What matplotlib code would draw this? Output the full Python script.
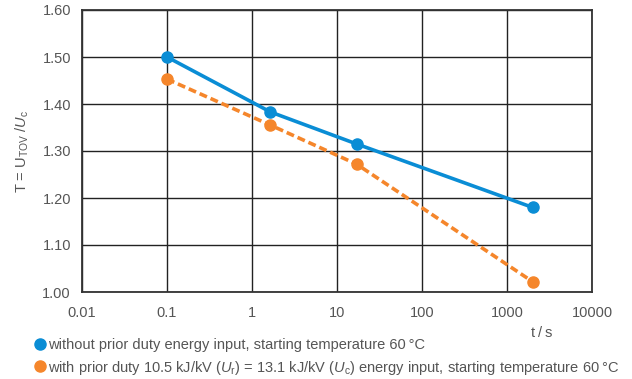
import matplotlib
matplotlib.use("Agg")
import matplotlib.pyplot as plt
from matplotlib.lines import Line2D
from matplotlib.ticker import FixedLocator, FixedFormatter, NullLocator

t_values = [0.1, 1.65, 17, 2000]
blue_T = [1.500, 1.383, 1.315, 1.180]
orange_T = [1.453, 1.355, 1.272, 1.022]
x_ticks = [0.01, 0.1, 1, 10, 100, 1000, 10000]
x_labels = ["0.01", "0.1", "1", "10", "100", "1000", "10000"]
y_ticks = [1.00, 1.10, 1.20, 1.30, 1.40, 1.50, 1.60]
y_labels = ["1.00", "1.10", "1.20", "1.30", "1.40", "1.50", "1.60"]
legend_labels = [
    "without prior duty energy input, starting temperature 60\u2009°C",
    r"with prior duty 10.5 kJ/kV ($\mathit{U}_{\mathrm{r}}$) = 13.1 kJ/kV ($\mathit{U}_{\mathrm{c}}$) energy input, starting temperature 60"
    + "\u2009°C",
]

BLUE = "#0a8dd5"
ORANGE = "#f5862b"
TXT = "#555555"

plt.rcParams['font.family'] = ['Liberation Sans', 'DejaVu Sans']
plt.rcParams['mathtext.fontset'] = 'custom'
plt.rcParams['mathtext.rm'] = 'Liberation Sans'
plt.rcParams['mathtext.it'] = 'Liberation Sans:italic'

fig = plt.figure(figsize=(6.32, 3.79), dpi=100)
ax = fig.add_axes([82/632, 1-292/379, (592-82)/632, (292-10)/379])

ax.set_xscale('log')
ax.set_xlim(0.01, 10000)
ax.set_ylim(1.0, 1.6)

ax.plot(t_values, blue_T, color=BLUE, lw=2.6, marker='o', ms=8, zorder=4)
ax.plot(t_values, orange_T, color=ORANGE, lw=2.6, ls=(0, (2.2, 1.1)), marker='o', ms=8, zorder=3)

ax.xaxis.set_major_locator(FixedLocator(x_ticks))
ax.xaxis.set_major_formatter(FixedFormatter(x_labels))
ax.xaxis.set_minor_locator(NullLocator())
ax.yaxis.set_major_locator(FixedLocator(y_ticks))
ax.yaxis.set_major_formatter(FixedFormatter(y_labels))
ax.tick_params(length=0, labelsize=10.5, colors=TXT, pad=8)
ax.tick_params(axis='x', pad=10)
ax.grid(True, color='#222222', lw=1.0)
ax.set_axisbelow(True)
for s in ax.spines.values():
    s.set_color('#333333')
    s.set_linewidth(1.3)

ax.set_ylabel(r"T = U$_{\mathrm{TOV}}$ /$\mathit{U}_{\mathrm{c}}$", color=TXT, fontsize=10.5, labelpad=8)

fig.text(542/632, 1-333/379, "t\u2009/\u2009s", color=TXT, fontsize=10.5, ha='center', va='center')

handles = [Line2D([], [], marker='o', ls='none', color=BLUE, ms=8),
           Line2D([], [], marker='o', ls='none', color=ORANGE, ms=8)]
fig.legend(handles=handles, labels=legend_labels, loc='upper left',
           bbox_to_anchor=(31/632, 1-338/379), frameon=False, fontsize=10.5,
           handletextpad=0.0, labelspacing=0.45, handlelength=1.2, labelcolor=TXT,
           borderpad=0, borderaxespad=0)

fig.savefig("out.png", dpi=100)
